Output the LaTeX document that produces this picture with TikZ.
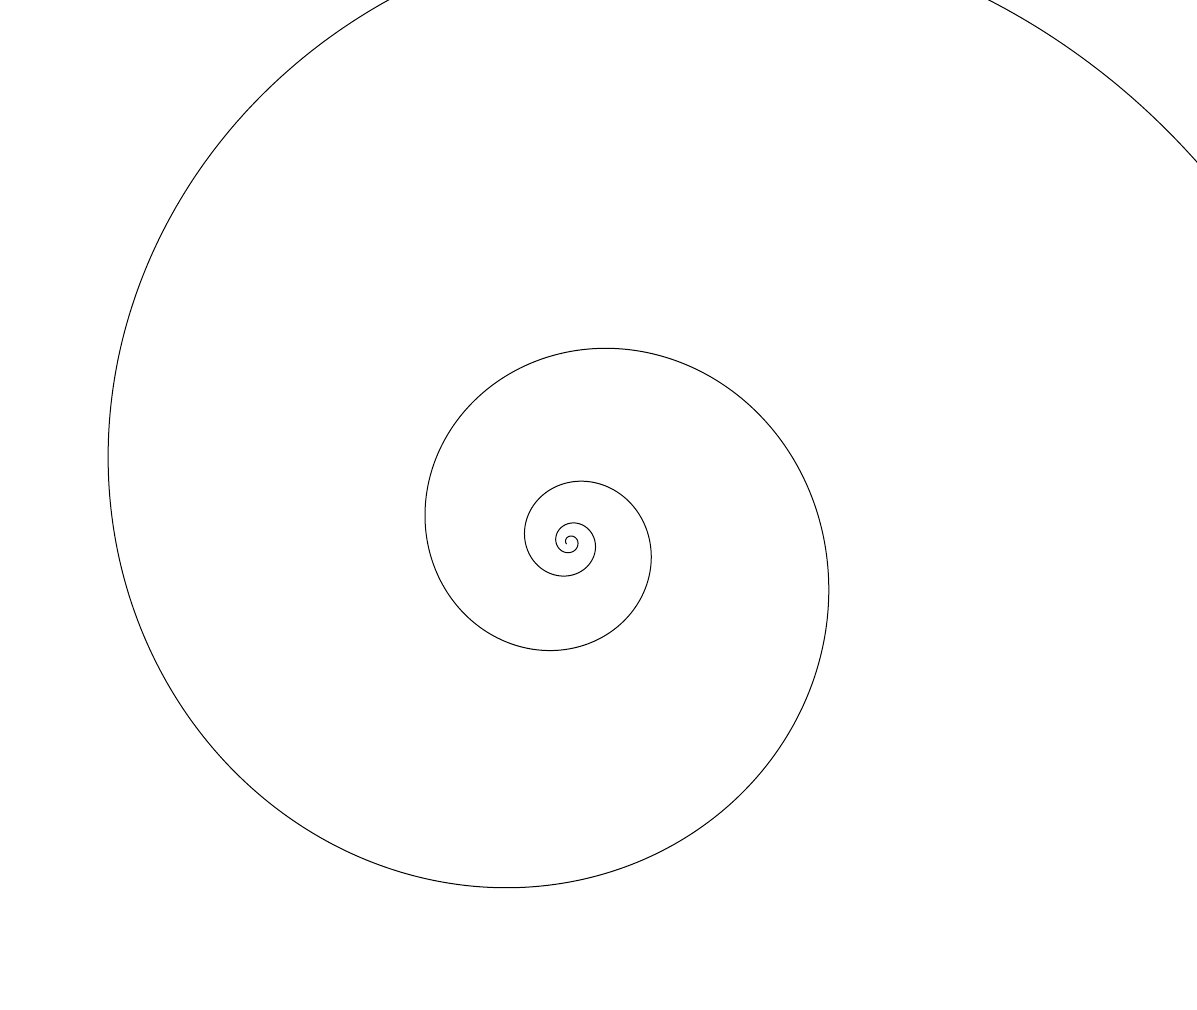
\documentclass[tikz,border=0pt]{standalone}
\begin{document}
\begin{tikzpicture}[x=0.5pt,y=0.5pt,spiralline/.style={line width=0.5pt,black}]
\useasboundingbox (0,0) rectangle (1197,1009);
\clip (0,0) rectangle (1197,1009);
\fill[white] (0,0) rectangle (1197,1009);
\coordinate (c) at (570,467);
\draw[spiralline] plot[domain=-340:1290,samples=900,smooth,variable=\t]
  ({570+147.4*exp(-0.1844*(\t-169.66)*pi/180)*cos(\t)},
   {467+147.4*exp(-0.1844*(\t-169.66)*pi/180)*sin(\t)});
\end{tikzpicture}
\end{document}
